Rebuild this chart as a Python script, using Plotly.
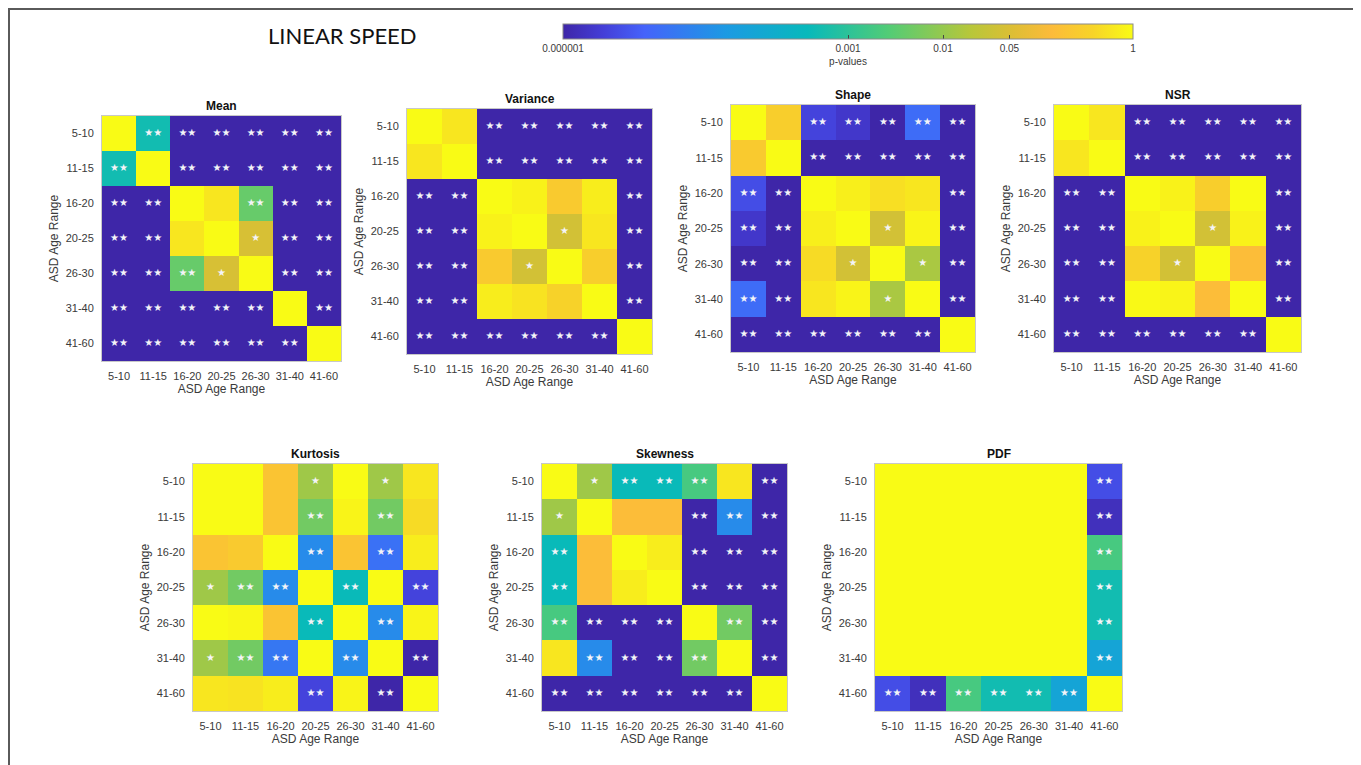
import numpy as np
import plotly.graph_objects as go

# page has an 8px body margin; figure sized to fill the rest of the window
OX, OY = 8, 8
W, H = 1353, 757

ages = ["5-10", "11-15", "16-20", "20-25", "26-30", "31-40", "41-60"]
P = 1e-7  # very small p-value (below colour range)

mean_p = [
    [1, 5e-4, P, P, P, P, P],
    [5e-4, 1, P, P, P, P, P],
    [P, P, 1, 0.6, 4e-3, P, P],
    [P, P, 0.6, 1, 0.045, P, P],
    [P, P, 4e-3, 0.045, 1, P, P],
    [P, P, P, P, P, 1, P],
    [P, P, P, P, P, P, 1],
]
variance_p = [
    [1, 0.6, P, P, P, P, P],
    [0.6, 1, P, P, P, P, P],
    [P, P, 1, 0.8, 0.25, 0.7, P],
    [P, P, 0.8, 1, 0.04, 0.6, P],
    [P, P, 0.25, 0.04, 1, 0.3, P],
    [P, P, 0.7, 0.55, 0.35, 1, P],
    [P, P, P, P, P, P, 1],
]
shape_p = [
    [1, 0.3, 3e-6, 2e-6, P, 1e-5, P],
    [0.25, 1, P, P, P, P, P],
    [4e-6, P, 1, 0.75, 0.5, 0.6, P],
    [2e-6, P, 0.75, 1, 0.04, 0.85, P],
    [P, P, 0.45, 0.04, 1, 0.015, P],
    [1e-5, P, 0.6, 0.85, 0.015, 1, P],
    [P, P, P, P, P, P, 1],
]
nsr_p = [
    [1, 0.6, P, P, P, P, P],
    [0.6, 1, P, P, P, P, P],
    [P, P, 1, 0.8, 0.3, 1, P],
    [P, P, 0.8, 1, 0.04, 0.8, P],
    [P, P, 0.35, 0.04, 1, 0.15, P],
    [P, P, 0.95, 0.85, 0.15, 1, P],
    [P, P, P, P, P, P, 1],
]
kurtosis_p = [
    [1, 1, 0.2, 0.012, 1, 0.012, 0.6],
    [1, 1, 0.2, 5e-3, 0.85, 5e-3, 0.45],
    [0.2, 0.25, 1, 3e-5, 0.2, 1.2e-5, 0.7],
    [0.012, 5e-3, 3e-5, 1, 4e-4, 1, 3e-6],
    [1, 0.9, 0.2, 4e-4, 1, 3e-5, 0.85],
    [0.012, 5e-3, 1.5e-5, 1, 3e-5, 1, 5e-7],
    [0.6, 0.55, 0.7, 3e-6, 0.85, 5e-7, 1],
]
skewness_p = [
    [1, 0.012, 4e-4, 4e-4, 2e-3, 0.6, P],
    [0.012, 1, 0.15, 0.15, P, 3e-5, P],
    [4e-4, 0.15, 1, 0.7, P, P, P],
    [4e-4, 0.15, 0.7, 1, P, P, P],
    [2e-3, P, P, P, 1, 5e-3, P],
    [0.6, 3e-5, P, P, 5e-3, 1, P],
    [P, P, P, P, P, P, 1],
]
pdf_p = [
    [1, 1, 1, 1, 1, 1, 4e-6],
    [1, 1, 1, 1, 1, 1, 1.5e-6],
    [1, 1, 1, 1, 1, 1, 2e-3],
    [1, 1, 1, 1, 1, 1, 5e-4],
    [1, 1, 1, 1, 1, 1, 5e-4],
    [1, 1, 1, 1, 1, 1, 1e-4],
    [4e-6, 1.5e-6, 2e-3, 5e-4, 5e-4, 1e-4, 1],
]

panels = [
    ("Mean", mean_p, (102, 341, 116, 361)),
    ("Variance", variance_p, (407, 652, 109, 354)),
    ("Shape", shape_p, (731, 975, 105, 352)),
    ("NSR", nsr_p, (1054, 1301, 105, 352)),
    ("Kurtosis", kurtosis_p, (193, 438, 464, 711)),
    ("Skewness", skewness_p, (542, 787, 464, 711)),
    ("PDF", pdf_p, (875, 1122, 464, 711)),
]

cbar_ticks = [0.000001, 0.001, 0.01, 0.05, 1]
cbar_labels = ["0.000001", "0.001", "0.01", "0.05", "1"]

parula = [
    [0.0, "rgb(62,38,168)"],
    [0.07, "rgb(68,62,215)"],
    [0.143, "rgb(69,99,251)"],
    [0.286, "rgb(28,154,227)"],
    [0.429, "rgb(7,185,187)"],
    [0.571, "rgb(82,204,118)"],
    [0.714, "rgb(183,199,58)"],
    [0.79, "rgb(222,190,52)"],
    [0.857, "rgb(252,187,58)"],
    [0.93, "rgb(247,212,40)"],
    [1.0, "rgb(249,251,21)"],
]

FONT = "Liberation Sans, Arial, sans-serif"
TXT = "#3a3a3a"


def px(x):
    return (x - OX) / W


def py(y):
    return 1 - (y - OY) / H


fig = go.Figure()
layout = {}
annotations = []

for k, (name, pmat, (x0, x1, y0, y1)) in enumerate(panels, start=1):
    pm = np.array(pmat, dtype=float)
    xa = "x" if k == 1 else f"x{k}"
    ya = "y" if k == 1 else f"y{k}"
    fig.add_trace(go.Heatmap(
        z=np.log10(pm), x=ages, y=ages, coloraxis="coloraxis",
        xaxis=xa, yaxis=ya, xgap=0, ygap=0,
        customdata=pm, hovertemplate="%{y} vs %{x}: p=%{customdata:.2g}<extra></extra>",
    ))
    xs, ys, ts = [], [], []
    for i in range(7):
        for j in range(7):
            p = pm[i, j]
            if p < 0.01:
                t = "★★"
            elif p < 0.05:
                t = "★"
            else:
                continue
            xs.append(ages[j]); ys.append(ages[i]); ts.append(t)
    fig.add_trace(go.Scatter(
        x=xs, y=ys, text=ts, mode="text", xaxis=xa, yaxis=ya,
        textfont=dict(color="#f4f4f8", size=10, family="DejaVu Sans"),
        hoverinfo="skip", showlegend=False,
    ))
    axcommon = dict(
        showline=True, mirror=True, linecolor="#c8c8c8", linewidth=1,
        showgrid=False, zeroline=False, ticks="", ticklabelstandoff=5,
        tickfont=dict(family=FONT, size=11, color=TXT), type="category",
        fixedrange=True,
    )
    layout[f"xaxis{k}"] = dict(
        axcommon, domain=[px(x0), px(x1)], anchor=ya,
        title=dict(text="ASD Age Range", standoff=3,
                   font=dict(family=FONT, size=12, color=TXT)),
    )
    layout[f"yaxis{k}"] = dict(
        axcommon, domain=[py(y1), py(y0)], anchor=xa,
        autorange="reversed",
        title=dict(text="ASD Age Range", standoff=4,
                   font=dict(family=FONT, size=12, color=TXT)),
    )
    annotations.append(dict(
        text=f"<b>{name}</b>", x=px((x0 + x1) / 2), y=py(y0 - 1),
        xref="paper", yref="paper", xanchor="center", yanchor="bottom",
        showarrow=False, font=dict(family=FONT, size=12, color="#111"),
    ))

annotations.append(dict(
    text="LINEAR SPEED", x=px(342), y=py(35), xref="paper", yref="paper",
    xanchor="center", yanchor="middle", showarrow=False,
    font=dict(family="Lato, Open Sans, sans-serif", size=22, color="#111"),
))

fig.update_layout(
    width=W, height=H, margin=dict(l=0, r=0, t=0, b=0),
    paper_bgcolor="white", plot_bgcolor="white", showlegend=False,
    coloraxis=dict(
        colorscale=parula, cmin=-6, cmax=0,
        colorbar=dict(
            orientation="h", x=px((563 + 1133) / 2), xanchor="center",
            y=py(24), yanchor="top", len=570 / W, lenmode="fraction",
            thickness=15, thicknessmode="pixels", xpad=0, ypad=0,
            tickvals=list(np.log10(cbar_ticks)), ticktext=cbar_labels,
            ticks="inside", ticklen=4, tickcolor="#444",
            tickfont=dict(family=FONT, size=10, color=TXT),
            outlinewidth=1, outlinecolor="#8a8a8a",
            title=dict(text="p-values", side="bottom",
                       font=dict(family=FONT, size=10, color=TXT)),
        ),
    ),
    annotations=annotations,
    shapes=[dict(type="rect", xref="paper", yref="paper",
                 x0=1 / W, x1=px(1354), y0=-0.05, y1=1 - 1 / H,
                 line=dict(color="#5a5a5a", width=2), layer="above")],
    **layout,
)

fig.write_html("out.html")
